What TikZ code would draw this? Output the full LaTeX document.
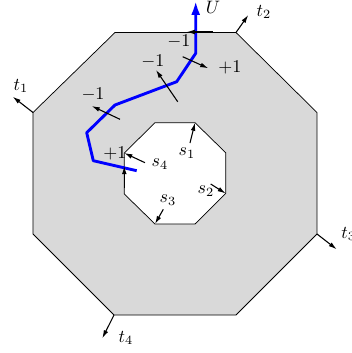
\documentclass[tikz,border=0pt]{standalone}
\usetikzlibrary{arrows.meta}
\begin{document}
\begin{tikzpicture}[x=0.5556pt,y=-0.5556pt,
  outerbox/.style={draw=black, fill=black!15, line width=0.4pt},
  innerbox/.style={draw=black, fill=white, line width=0.4pt},
  vec/.style={-{Latex[length=4.5pt,width=2.6pt]}, line width=0.6pt},
  lbl/.style={inner sep=0pt},
  bluepath/.style={draw=blue, line width=1.6pt, line join=round, -{Latex[length=8pt,width=5pt]}}]
\useasboundingbox (0,0) rectangle (352,353);
% outer octagon
\coordinate (o1) at (115,32.5);
\coordinate (o2) at (236,32.5);
\coordinate (o3) at (317,112.5);
\coordinate (o4) at (317,234);
\coordinate (o5) at (236,315);
\coordinate (o6) at (114,315);
\coordinate (o7) at (33,234);
\coordinate (o8) at (33,112.5);
\draw[outerbox] (o1) -- (o2) -- (o3) -- (o4) -- (o5) -- (o6) -- (o7) -- (o8) -- cycle;
% inner octagon
\coordinate (i1) at (155,122.7);
\coordinate (i2) at (195,122.7);
\coordinate (i3) at (225.7,152.7);
\coordinate (i4) at (225.7,193.5);
\coordinate (i5) at (195,224);
\coordinate (i6) at (155,224);
\coordinate (i7) at (124.3,194);
\coordinate (i8) at (124.3,153);
\draw[innerbox] (i1) -- (i2) -- (i3) -- (i4) -- (i5) -- (i6) -- (i7) -- (i8) -- cycle;
% outer t arrows
\coordinate (t1e) at (12.7,96.7);
\coordinate (t2e) at (248.3,15);
\coordinate (t3e) at (336.7,249.3);
\coordinate (t4e) at (102.3,338.3);
\draw[vec] (o8) -- (t1e);
\draw[vec] (o2) -- (t2e);
\draw[vec] (o4) -- (t3e);
\draw[vec] (o6) -- (t4e);
\node[lbl] (t1) at (21,86) {$t_1$};
\node[lbl] (t2) at (264,12) {$t_2$};
\node[lbl,anchor=west] (t3) at (341,234) {$t_3$};
\node[lbl] (t4) at (126,338) {$t_4$};
% inner s arrows
\coordinate (s1s) at (190,143);
\coordinate (s2s) at (210.7,184);
\coordinate (s3s) at (163.3,209.3);
\coordinate (s4s) at (145,162.7);
\draw[vec] (s1s) -- (i2);
\draw[vec] (s2s) -- (i4);
\draw[vec] (s3s) -- (i6);
\draw[vec] (s4s) -- (i8);
\node[lbl] (s1) at (187,153) {$s_1$};
\node[lbl] (s2) at (206,191) {$s_2$};
\node[lbl] (s3) at (168,200) {$s_3$};
\node[lbl] (s4) at (160,164) {$s_4$};
% blue path
\coordinate (p0) at (136.7,170.7);
\coordinate (p1) at (93.3,160.7);
\coordinate (p2) at (86.7,132.7);
\coordinate (p3) at (115,105);
\coordinate (p4) at (176.7,81.7);
\coordinate (p5) at (195.7,53.3);
\coordinate (p6) at (195.7,0.5);
\draw[bluepath] (p0) -- (p1) -- (p2) -- (p3) -- (p4) -- (p5) -- (p6);
\node[lbl,text=black] (U) at (213,7) {$U$};
% crossing arrows
\coordinate (a1s) at (213.3,32);
\coordinate (a1e) at (186.7,32);
\coordinate (a2s) at (182.7,56.7);
\coordinate (a2e) at (208.3,68.3);
\coordinate (a3s) at (177.7,101.7);
\coordinate (a3e) at (156,70);
\coordinate (a4s) at (120,119.3);
\coordinate (a4e) at (91.7,106);
\coordinate (a5s) at (124.3,188.3);
\coordinate (a5e) at (124.3,166);
\draw[vec] (a1s) -- (a1e);
\draw[vec] (a2s) -- (a2e);
\draw[vec] (a3s) -- (a3e);
\draw[vec] (a4s) -- (a4e);
\draw[vec] (a5s) -- (a5e);
\node[lbl] (m1) at (179,41) {$-1$};
\node[lbl] (p1l) at (230,67) {$+1$};
\node[lbl] (m2) at (153,61) {$-1$};
\node[lbl] (m3) at (93,94) {$-1$};
\node[lbl] (p2l) at (115,153) {$+1$};
\end{tikzpicture}
\end{document}
